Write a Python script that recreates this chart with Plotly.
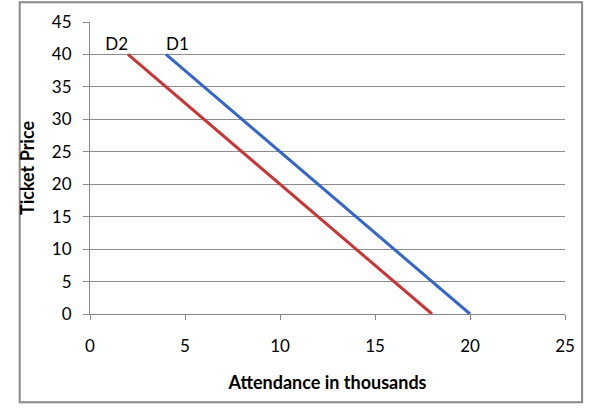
import plotly.graph_objects as go

# demand curves: attendance (thousands) vs ticket price
d1_attendance = [4, 20]
d1_price = [40, 0]
d2_attendance = [2, 18]
d2_price = [40, 0]
x_ticks = [0, 5, 10, 15, 20, 25]
y_ticks = [0, 5, 10, 15, 20, 25, 30, 35, 40, 45]

font_name = "Lato, Noto Sans, sans-serif"

fig = go.Figure()

fig.add_trace(go.Scatter(
    x=d1_attendance, y=d1_price, mode="lines+text",
    line=dict(color="#3366CC", width=3),
    text=["D1", ""], textposition="top right",
    textfont=dict(size=17, color="#000000", family=font_name),
    cliponaxis=False, hoverinfo="skip",
))
fig.add_trace(go.Scatter(
    x=d2_attendance, y=d2_price, mode="lines+text",
    line=dict(color="#CC3333", width=3),
    text=["D2", ""], textposition="top left",
    textfont=dict(size=17, color="#000000", family=font_name),
    cliponaxis=False, hoverinfo="skip",
))

fig.update_layout(
    width=590, height=411,
    margin=dict(l=90, r=25, t=22, b=97),
    paper_bgcolor="white", plot_bgcolor="white",
    showlegend=False,
    font=dict(family=font_name, size=17, color="#000000"),
    xaxis=dict(
        range=[0, 25], tickvals=x_ticks, showgrid=False, zeroline=False,
        showline=True, linecolor="#888888", linewidth=1,
        ticks="outside", ticklen=5, tickcolor="#888888",
        ticklabelstandoff=12,
        title=dict(text="<b>Attendance in thousands</b>", standoff=20,
                   font=dict(size=18, family=font_name, color="#000000")),
    ),
    yaxis=dict(
        range=[0, 45], tickvals=y_ticks, showgrid=True, gridcolor="#8c8c8c",
        zeroline=False, showline=True, linecolor="#888888", linewidth=1,
        ticks="outside", ticklen=6, tickcolor="#888888",
        ticklabelstandoff=8,
        title=dict(text="<b>Ticket Price</b>", standoff=12,
                   font=dict(size=18, family=font_name, color="#000000")),
    ),
    shapes=[dict(
        type="rect", xref="paper", yref="paper",
        x0=-0.148, x1=1.036, y0=-0.302, y1=1.068,
        line=dict(color="#888888", width=2), fillcolor="rgba(0,0,0,0)",
    )],
)

fig.write_html("out.html", config={"displayModeBar": False},
               post_script="document.body.style.margin='0';")
